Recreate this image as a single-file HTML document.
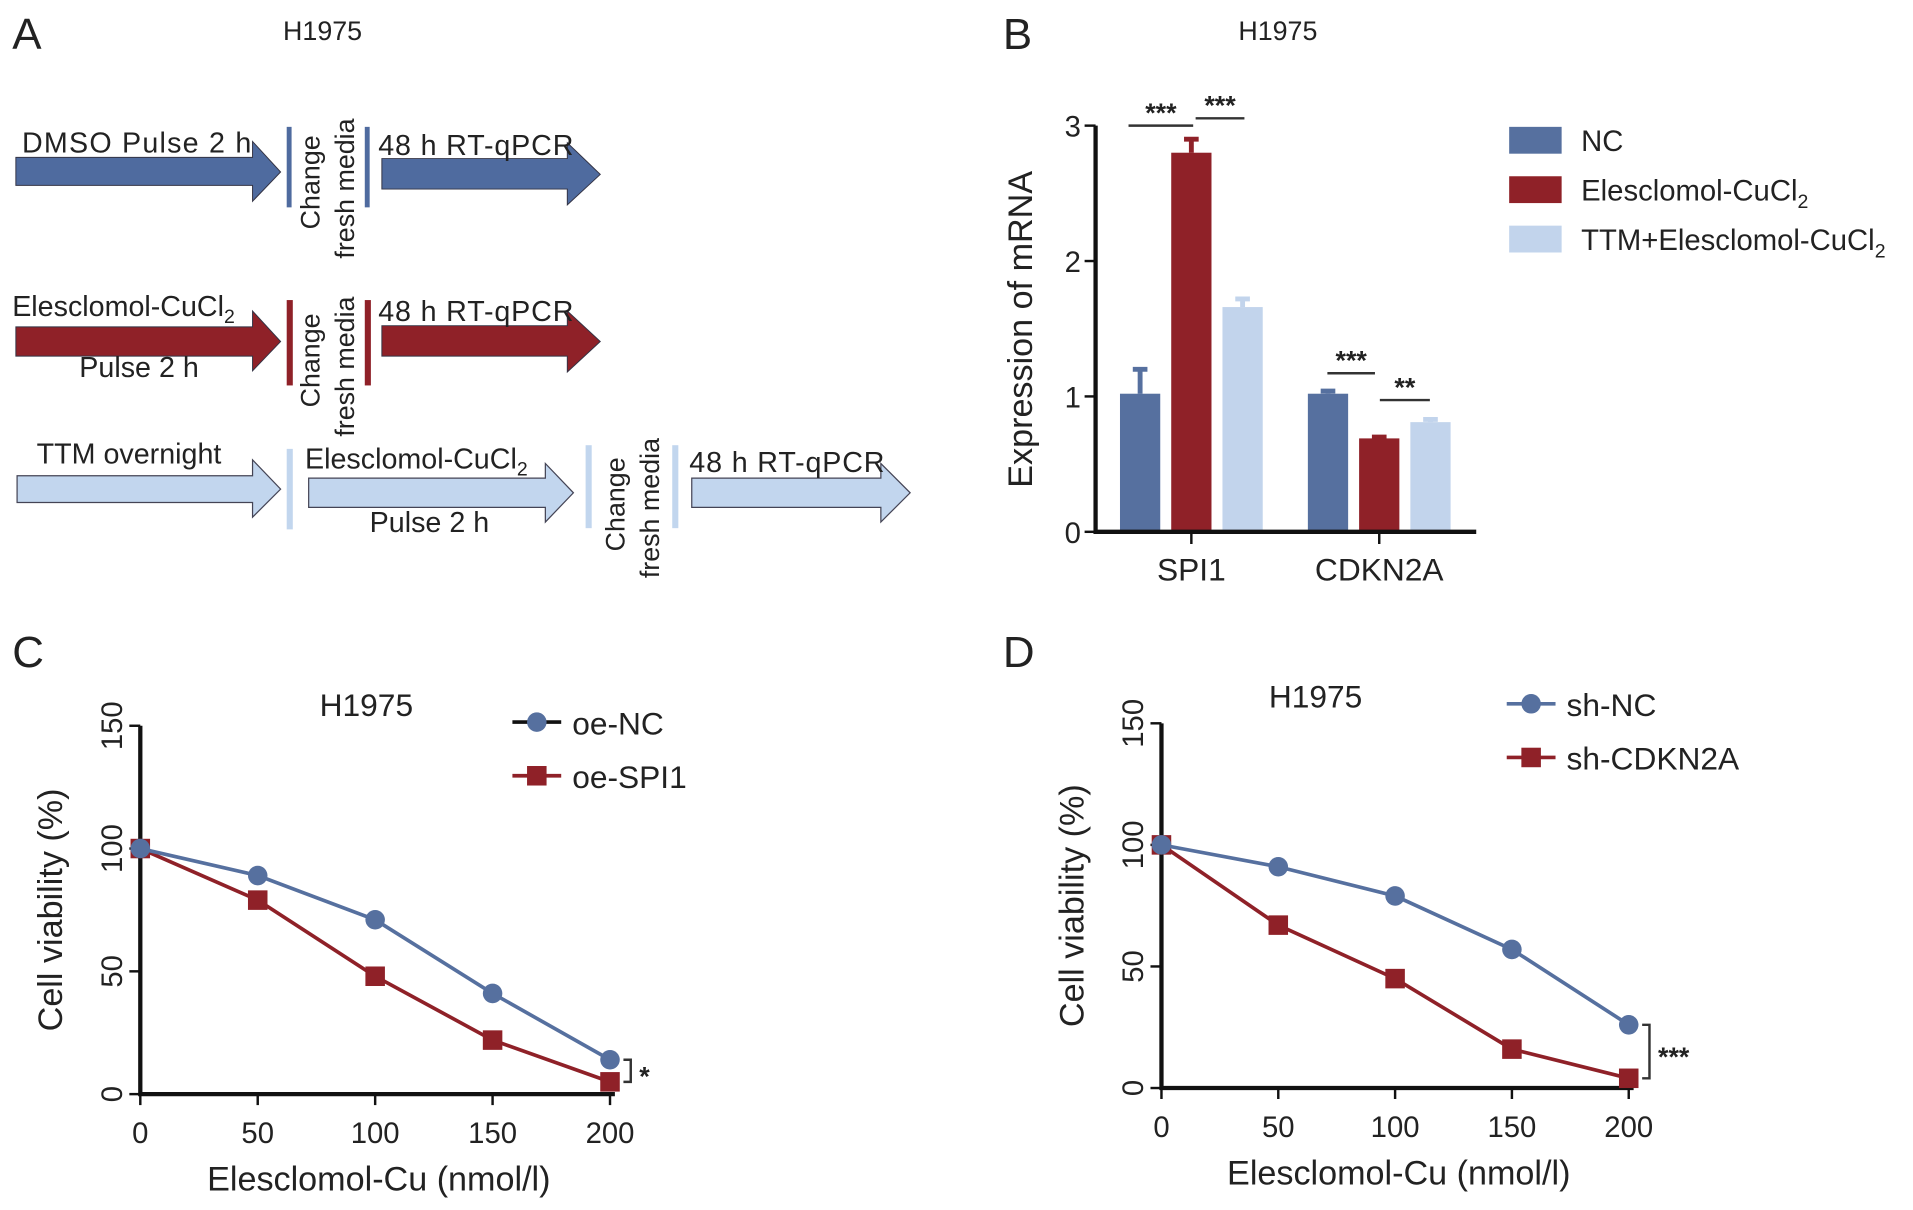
<!DOCTYPE html>
<html><head><meta charset="utf-8"><style>
html,body{margin:0;padding:0;background:#fff;}
svg{display:block;font-family:"Liberation Sans",sans-serif;}
text{fill:#222;}
</style></head><body>
<svg id="fig" width="1913" height="1210" viewBox="0 0 1568 992" preserveAspectRatio="none" xmlns="http://www.w3.org/2000/svg">
<g id="panelA">
 <text x="10" y="40" font-size="36">A</text>
 <text x="232" y="33" font-size="22">H1975</text>
 <polygon points="13,129 207,129 207,116 230,141 207,165 207,152 13,152" fill="#4f6b9f" stroke="#334" stroke-width="0.8"/>
 <text x="18" y="125" font-size="23.5" textLength="188">DMSO Pulse 2 h</text>
 <rect x="235" y="104" width="4" height="66" fill="#4f6b9f"/>
 <rect x="299" y="104" width="4" height="66" fill="#4f6b9f"/>
 <text transform="translate(262,188) rotate(-90)" font-size="22">Change</text>
 <text transform="translate(290,212) rotate(-90)" font-size="22">fresh media</text>
 <polygon points="313,130 465,130 465,117 492,143 465,168 465,155 313,155" fill="#4f6b9f" stroke="#334" stroke-width="0.8"/>
 <text x="310" y="127" font-size="23.5" textLength="160">48 h RT-qPCR</text>
 <polygon points="13,268 207,268 207,255 230,280 207,304 207,292 13,292" fill="#8f2128" stroke="#334" stroke-width="0.8"/>
 <text x="10" y="259" font-size="23.5">Elesclomol-CuCl<tspan font-size="16" dy="6">2</tspan></text>
 <text x="65" y="309" font-size="23.5">Pulse 2 h</text>
 <rect x="235" y="246" width="5" height="70" fill="#8f2128"/>
 <rect x="299" y="246" width="5" height="70" fill="#8f2128"/>
 <text transform="translate(262,334) rotate(-90)" font-size="22">Change</text>
 <text transform="translate(290,358) rotate(-90)" font-size="22">fresh media</text>
 <polygon points="313,267 465,267 465,255 492,280 465,305 465,292 313,292" fill="#8f2128" stroke="#334" stroke-width="0.8"/>
 <text x="310" y="263" font-size="23.5" textLength="160">48 h RT-qPCR</text>
 <polygon points="14,390 207,390 207,377 230,401 207,424 207,412 14,412" fill="#c2d6ee" stroke="#445" stroke-width="1"/>
 <text x="30" y="380" font-size="23.5">TTM overnight</text>
 <rect x="235" y="368" width="5" height="66" fill="#c2d6ee"/>
 <polygon points="253,392 447,392 447,380 470,404 447,428 447,416 253,416" fill="#c2d6ee" stroke="#445" stroke-width="1"/>
 <text x="250" y="384" font-size="23.5">Elesclomol-CuCl<tspan font-size="16" dy="6">2</tspan></text>
 <text x="303" y="436" font-size="23.5">Pulse 2 h</text>
 <rect x="480" y="365" width="5" height="68" fill="#c2d6ee"/>
 <rect x="551" y="365" width="5" height="68" fill="#c2d6ee"/>
 <text transform="translate(512,452) rotate(-90)" font-size="22">Change</text>
 <text transform="translate(540,474) rotate(-90)" font-size="22">fresh media</text>
 <polygon points="567,392 722,392 722,380 746,404 722,428 722,416 567,416" fill="#c2d6ee" stroke="#445" stroke-width="1"/>
 <text x="565" y="387" font-size="23.5" textLength="160">48 h RT-qPCR</text>
</g>
<g id="panelB"></g>
<g id="panelC"></g>
<g id="panelD"></g>
</svg>
<script>
const NS="http://www.w3.org/2000/svg";
const barGenes=["SPI1","CDKN2A"];
const barGroups=["NC","Elesclomol-CuCl2","TTM+Elesclomol-CuCl2"];
const ncValues=[1.02,1.02];
const eleValues=[2.8,0.69];
const ttmValues=[1.66,0.81];
const ncErr=[0.18,0.02];
const eleErr=[0.1,0.01];
const ttmErr=[0.06,0.02];
const barTicks=[0,1,2,3];
const doses=[0,50,100,150,200];
const oeNC=[100,89,71,41,14];
const oeSPI1=[100,79,48,22,5];
const shNC=[100,91,79,57,26];
const shCDKN2A=[100,67,45,16,4];
const viabTicks=[0,50,100,150];
const BLUE="#56709f",RED="#8f2128",LIGHT="#c2d4ec";

function mk(parent,tag,attrs,text){const e=document.createElementNS(NS,tag);for(const k in attrs)e.setAttribute(k,attrs[k]);if(text!==undefined)e.textContent=text;parent.appendChild(e);return e;}

(function(){
 const g=document.getElementById('panelB');
 const x0=898,x1=1210,yb=436,yt=103,vmax=3;
 const y=v=>yb-(v/vmax)*(yb-yt);
 let t=mk(g,'text',{x:822,y:40,'font-size':36},'B');
 
 t=mk(g,'text',{x:1015,y:33,'font-size':22},'H1975');
 
 const series=[ncValues,eleValues,ttmValues],errs=[ncErr,eleErr,ttmErr],cols=[BLUE,RED,LIGHT];
 const groupStart=[918,1072],bw=33,step=42;
 barGenes.forEach((gene,gi)=>{
  series.forEach((s,si)=>{
   const bx=groupStart[gi]+si*step;
   const r=mk(g,'rect',{x:bx,y:y(s[gi]),width:bw,height:yb-y(s[gi]),fill:cols[si]});
   
   
   const ey=y(s[gi]+errs[si][gi]);
   const l=mk(g,'path',{d:`M${bx+bw/2},${y(s[gi])}V${ey}M${bx+bw/2-6},${ey}H${bx+bw/2+6}`,stroke:cols[si],'stroke-width':4,fill:'none'});
   
   
  });
  const cx=groupStart[gi]+step+bw/2;
  const tk=mk(g,'line',{x1:cx,x2:cx,y1:yb,y2:yb+10,stroke:'#111','stroke-width':2});
  
  const lb=mk(g,'text',{x:cx,y:476,'font-size':26,'text-anchor':'middle'},gene);
  
 });
 let a=mk(g,'path',{d:`M${x0},${yt}V${yb}H${x1}`,stroke:'#111','stroke-width':3.5,fill:'none'});
 
 barTicks.forEach(v=>{
  const tl=mk(g,'line',{x1:x0-9,x2:x0,y1:y(v),y2:y(v),stroke:'#111','stroke-width':2});
  
  const tt=mk(g,'text',{x:x0-12,y:y(v)+9,'font-size':24,'text-anchor':'end'},String(v));
  
 });
 t=mk(g,'text',{transform:'translate(846,270) rotate(-90)','font-size':28,'text-anchor':'middle'},'Expression of mRNA');
 
 const sig=[[925,978,103,'***'],[980,1020,97,'***'],[1088,1127,306,'***'],[1131,1172,328,'**']];
 sig.forEach(s=>{
  const l=mk(g,'line',{x1:s[0],x2:s[1],y1:s[2],y2:s[2],stroke:'#333','stroke-width':2});
  
  const st=mk(g,'text',{x:(s[0]+s[1])/2,y:s[2]-3,'font-size':22,'font-weight':'bold','text-anchor':'middle'},s[3]);
  
 });
 barGroups.forEach((name,i)=>{
  const yy=104+i*40.5;
  const r=mk(g,'rect',{x:1237,y:yy,width:43,height:22,fill:cols[i]});
  
  const tx=mk(g,'text',{x:1296,y:yy+20,'font-size':24});
  
  if(name.endsWith('CuCl2')){tx.textContent=name.slice(0,-1);mk(tx,'tspan',{'font-size':16,dy:6},'2');}
  else tx.textContent=name;
 });
})();

function lineChart(id,o){
 const g=document.getElementById(id);
 const y=v=>o.yb-(v/150)*(o.yb-o.yt);
 const x=d=>o.x0+(d/200)*(o.x1-o.x0);
 let t=mk(g,'text',{x:o.lx,y:547,'font-size':36},o.label);
 
 t=mk(g,'text',{x:o.tx,y:o.ty,'font-size':26},'H1975');
 
 const a=mk(g,'path',{d:`M${o.x0},${o.yt}V${o.yb}H${o.x1+4}`,stroke:'#111','stroke-width':3.5,fill:'none'});
 
 viabTicks.forEach(v=>{
  const l=mk(g,'line',{x1:o.x0-9,x2:o.x0,y1:y(v),y2:y(v),stroke:'#111','stroke-width':2});
  
  const tt=mk(g,'text',{transform:`translate(${o.x0-15},${y(v)}) rotate(-90)`,'font-size':24,'text-anchor':'middle'},String(v));
  
 });
 doses.forEach(d=>{
  const l=mk(g,'line',{x1:x(d),x2:x(d),y1:o.yb,y2:o.yb+9,stroke:'#111','stroke-width':2});
  
  const tt=mk(g,'text',{x:x(d),y:o.yb+40,'font-size':24,'text-anchor':'middle'},String(d));
  
 });
 t=mk(g,'text',{transform:`translate(${o.x0-64},${(o.yt+o.yb)/2}) rotate(-90)`,'font-size':28,'text-anchor':'middle'},'Cell viability (%)');
 
 t=mk(g,'text',{x:(o.x0+o.x1)/2+3,y:o.yb+79,'font-size':28,'text-anchor':'middle'},'Elesclomol-Cu (nmol/l)');
 
 [[o.red,RED,'sq'],[o.blue,BLUE,'ci']].forEach(([vals,col,shape])=>{
  const p=mk(g,'polyline',{points:vals.map((v,i)=>x(doses[i])+','+y(v)).join(' '),stroke:col,'stroke-width':3,fill:'none'});
  
  vals.forEach((v,i)=>{
   let m;
   if(shape==='sq')m=mk(g,'rect',{x:x(doses[i])-8,y:y(v)-8,width:16,height:16,fill:col});
   else m=mk(g,'circle',{cx:x(doses[i]),cy:y(v),r:8,fill:col});
   
  });
 });
 o.legend.forEach((name,i)=>{
  const ly=o.ly+i*44;const col=i?RED:BLUE;
  const l=mk(g,'line',{x1:o.legx,x2:o.legx+40,y1:ly,y2:ly,stroke:(i===0&&o.blackLine)?'#111':col,'stroke-width':3});
  
  const m=i?mk(g,'rect',{x:o.legx+12,y:ly-8,width:16,height:16,fill:col}):mk(g,'circle',{cx:o.legx+20,cy:ly,r:8,fill:col});
  
  const tt=mk(g,'text',{x:o.legx+49,y:ly+10,'font-size':26},name);
  
 });
 const bx=x(200)+17,yA=y(o.blue[4]),yB=y(o.red[4]);
 const b=mk(g,'path',{d:`M${bx-6},${yA}H${bx}V${yB}H${bx-6}`,stroke:'#333','stroke-width':2,fill:'none'});
 
 const st=mk(g,'text',{x:bx+7,y:(yA+yB)/2+12,'font-size':22,'font-weight':'bold'},o.stars);
 
}
lineChart('panelC',{label:'C',lx:10,x0:115,x1:500,yt:595,yb:897,tx:262,ty:587,blue:oeNC,red:oeSPI1,legend:['oe-NC','oe-SPI1'],legx:420,ly:592,blackLine:true,stars:'*'});
lineChart('panelD',{label:'D',lx:822,x0:952,x1:1335,yt:593,yb:892,tx:1040,ty:580,blue:shNC,red:shCDKN2A,legend:['sh-NC','sh-CDKN2A'],legx:1235,ly:577,blackLine:false,stars:'***'});
</script>
</body></html>
